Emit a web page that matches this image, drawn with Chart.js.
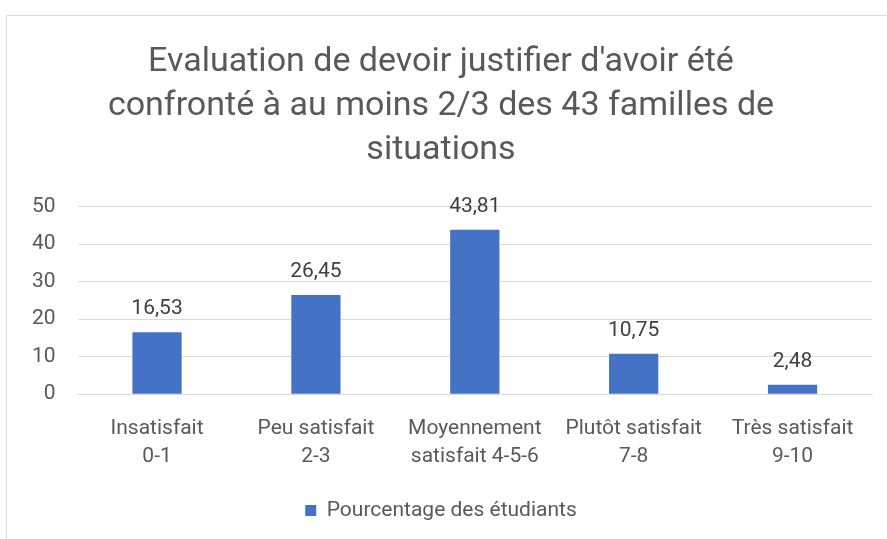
<!DOCTYPE html>
<html>
<head>
<meta charset="utf-8">
<script src="https://cdn.jsdelivr.net/npm/chart.js@4/dist/chart.umd.min.js"></script>
<style>
  html, body { margin: 0; padding: 0; background: #fff; }
  #wrap { position: relative; width: 887px; height: 539px; overflow: hidden; }
  #frame { position: absolute; left: 6px; top: 15px; width: 900px; height: 600px; border: 1px solid #d9d9d9; }
  #c { position: absolute; left: 0; top: 0; }
</style>
</head>
<body>
<div id="wrap">
  <div id="frame"></div>
  <canvas id="c" width="887" height="539"></canvas>
</div>
<script>
// Données du graphique
const categories = [
  ["Insatisfait", "0-1"],
  ["Peu satisfait", "2-3"],
  ["Moyennement", "satisfait 4-5-6"],
  ["Plutôt satisfait", "7-8"],
  ["Très satisfait", "9-10"]
];
const pourcentages = [16.53, 26.45, 43.81, 10.75, 2.48];
const titre = ["Evaluation de devoir justifier d'avoir été", "confronté à au moins 2/3 des 43 familles de", "situations"];
const serieNom = "Pourcentage des étudiants";

const grey = "#595959";
const font = "Roboto, 'Noto Sans', sans-serif";

// étiquettes de valeurs au-dessus des barres
const valueLabels = {
  id: 'valueLabels',
  afterDatasetsDraw(chart) {
    const ctx = chart.ctx;
    const meta = chart.getDatasetMeta(0);
    ctx.save();
    ctx.font = "21px " + font;
    ctx.fillStyle = "#404040";
    ctx.textAlign = "center";
    ctx.textBaseline = "alphabetic";
    meta.data.forEach((bar, i) => {
      const txt = pourcentages[i].toFixed(2).replace(".", ",");
      ctx.fillText(txt, bar.x, bar.y - 18);
    });
    ctx.restore();
  }
};

const ctx = document.getElementById('c').getContext('2d');
new Chart(ctx, {
  type: 'bar',
  data: {
    labels: categories,
    datasets: [{
      label: serieNom,
      data: pourcentages,
      backgroundColor: '#4472C4',
      borderWidth: 0,
      barPercentage: 0.31,
      categoryPercentage: 1
    }]
  },
  options: {
    responsive: false,
    animation: false,
    layout: { padding: { left: 10, right: 15, top: 40, bottom: 8 } },
    plugins: {
      title: {
        display: true,
        text: titre,
        color: grey,
        font: { family: font, size: 34, weight: 'normal', lineHeight: 1.3 },
        padding: { top: 0, bottom: 34 }
      },
      legend: {
        position: 'bottom',
        labels: {
          color: grey,
          font: { family: font, size: 21 },
          boxWidth: 11,
          boxHeight: 11,
          padding: 8
        }
      },
      tooltip: { enabled: false }
    },
    scales: {
      x: {
        grid: { display: false, drawTicks: false },
        border: { color: '#d9d9d9' },
        ticks: {
          color: grey,
          font: { family: font, size: 21, lineHeight: 1.33 },
          padding: 21,
          maxRotation: 0,
          autoSkip: false
        }
      },
      y: {
        min: 0,
        max: 50,
        grid: { color: '#d9d9d9', drawTicks: false },
        border: { display: false },
        ticks: {
          stepSize: 10,
          color: grey,
          font: { family: font, size: 21 },
          padding: 22
        }
      }
    }
  },
  plugins: [valueLabels]
});
</script>
</body>
</html>
